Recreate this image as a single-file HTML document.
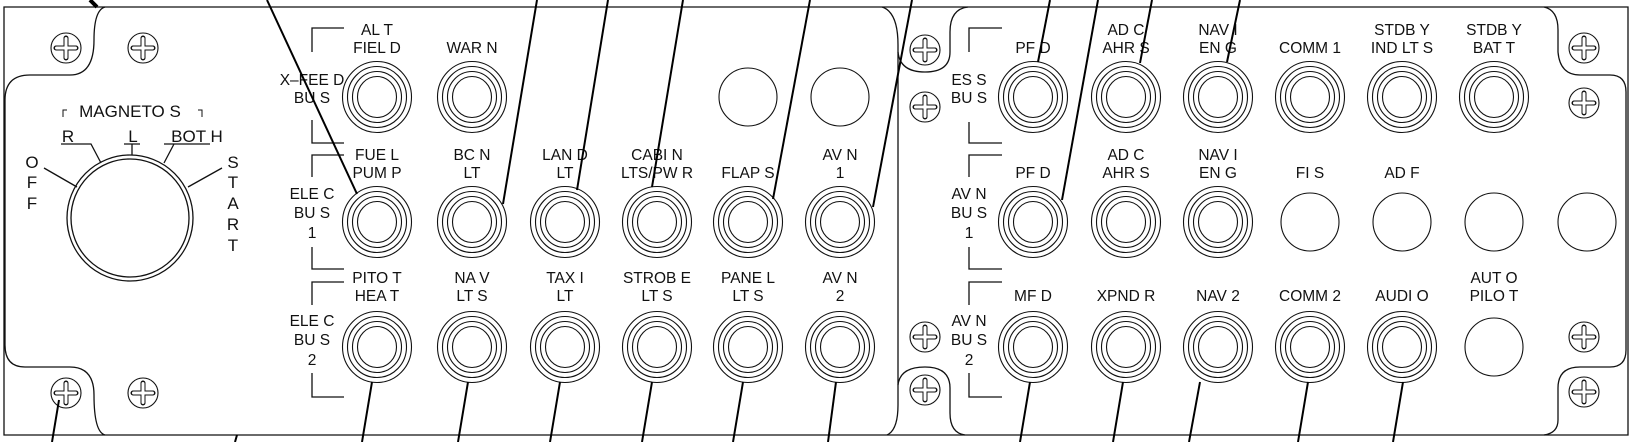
<!DOCTYPE html>
<html><head><meta charset="utf-8"><style>
html,body{margin:0;padding:0;background:#fff;}
svg{display:block;}
text{font-family:"Liberation Sans",sans-serif;font-size:15.5px;fill:#111;text-anchor:middle;}
</style></head><body>
<svg width="1636" height="442" viewBox="0 0 1636 442" xmlns="http://www.w3.org/2000/svg">
<defs>
<g id="jack" fill="none" stroke="#111" stroke-width="1.1">
<ellipse rx="34.5" ry="35.5"/><ellipse rx="29.5" ry="30.5"/><ellipse rx="24.5" ry="25.5"/><ellipse rx="19.5" ry="20.5"/>
</g>
<g id="screw">
<circle r="15" fill="#fff" stroke="#111" stroke-width="1.1"/>
<path d="M-10 0H10M0 -10V10" stroke="#111" stroke-width="5" stroke-linecap="round"/>
<path d="M-9.5 0H9.5M0 -9.5V9.5" stroke="#fff" stroke-width="3" stroke-linecap="round"/>
</g>
<ellipse id="hole" rx="29" ry="29" fill="none" stroke="#111" stroke-width="1.1"/>
</defs>
<g fill="none" stroke="#111" stroke-width="1.3">
<path d="M4 7H1628V435H4Z"/>
<path d="M105 7 Q94 10 94 40 Q94 75 70 75 L30 75 Q5 75 5 100 L5 345 Q5 367 25 367 L70 367 Q94 367 94 395 Q94 432 105 435"/>
<path d="M882 7 Q898 12 898 45 L898 405 Q898 430 887 435"/>
<path d="M968 7 Q950 9 950 32 L950 52 Q950 72 925 72 Q900 72 898 52"/>
<path d="M898 385 Q900 367 925 367 Q950 367 950 388 L950 413 Q950 433 965 435"/>
<path d="M1544 7 Q1558 10 1558 30 L1558 52 Q1560 75 1580 75 L1610 75 Q1626 75 1626 92 L1626 350 Q1626 367 1610 367 L1580 367 Q1558 367 1558 388 L1558 420 Q1558 433 1544 435"/>
<path d="M344 28H312V52M312 120V143H344"/>
<path d="M344 155H312V177M312 247V269H344"/>
<path d="M344 282H312V305M312 373V397H344"/>
<path d="M1002 28H969V52M969 122V143H1002"/>
<path d="M1002 155H969V177M969 247V269H1002"/>
<path d="M1002 282H969V305M969 373V397H1002"/>
<ellipse cx="130" cy="218" rx="63" ry="63"/>
<ellipse cx="130" cy="218" rx="59" ry="59"/>
<path d="M61 144H91L101 163"/>
<path d="M124 144H140M132 144V155"/>
<path d="M164 144H210M174 144L164 163"/>
<path d="M44 168L77 187"/>
<path d="M222 168L188 187"/>
<path d="M63 117V110H67M198 110H202V117" stroke-width="1"/>
</g>
<use href="#screw" x="66" y="48"/><use href="#screw" x="143" y="48"/>
<use href="#screw" x="66" y="393"/><use href="#screw" x="143" y="393"/>
<use href="#screw" x="925" y="50"/><use href="#screw" x="925" y="107"/>
<use href="#screw" x="925" y="337"/><use href="#screw" x="925" y="390"/>
<use href="#screw" x="1584" y="48"/><use href="#screw" x="1584" y="103"/>
<use href="#screw" x="1584" y="337"/><use href="#screw" x="1584" y="392"/>
<use href="#jack" x="377" y="97"/><use href="#jack" x="472" y="97"/>
<use href="#hole" x="748" y="97"/><use href="#hole" x="840" y="97"/>
<use href="#jack" x="377" y="222"/><use href="#jack" x="472" y="222"/><use href="#jack" x="565" y="222"/>
<use href="#jack" x="657" y="222"/><use href="#jack" x="748" y="222"/><use href="#jack" x="840" y="222"/>
<use href="#jack" x="377" y="347"/><use href="#jack" x="472" y="347"/><use href="#jack" x="565" y="347"/>
<use href="#jack" x="657" y="347"/><use href="#jack" x="748" y="347"/><use href="#jack" x="840" y="347"/>
<use href="#jack" x="1033" y="97"/><use href="#jack" x="1126" y="97"/><use href="#jack" x="1218" y="97"/>
<use href="#jack" x="1310" y="97"/><use href="#jack" x="1402" y="97"/><use href="#jack" x="1494" y="97"/>
<use href="#jack" x="1033" y="222"/><use href="#jack" x="1126" y="222"/><use href="#jack" x="1218" y="222"/>
<use href="#hole" x="1310" y="222"/><use href="#hole" x="1402" y="222"/><use href="#hole" x="1494" y="222"/><use href="#hole" x="1587" y="222"/>
<use href="#jack" x="1033" y="347"/><use href="#jack" x="1126" y="347"/><use href="#jack" x="1218" y="347"/>
<use href="#jack" x="1310" y="347"/><use href="#jack" x="1402" y="347"/>
<use href="#hole" x="1494" y="347"/>
<g>
<text x="130" y="117" style="font-size:17px">MAGNETO   S</text>
<text x="68" y="142" style="font-size:17px">R</text>
<text x="133" y="142" style="font-size:17px">L</text>
<text x="197" y="142" style="font-size:17px">BOT  H</text>
<text x="32" y="168" style="font-size:17px">O</text><text x="32" y="188" style="font-size:17px">F</text><text x="32" y="209" style="font-size:17px">F</text>
<text x="233" y="168" style="font-size:17px">S</text><text x="233" y="188" style="font-size:17px">T</text><text x="233" y="209" style="font-size:17px">A</text><text x="233" y="230" style="font-size:17px">R</text><text x="233" y="251" style="font-size:17px">T</text>

<text x="312" y="85">X–FEE  D</text><text x="312" y="103">BU S</text>
<text x="312" y="199">ELE C</text><text x="312" y="218">BU S</text><text x="312" y="238">1</text>
<text x="312" y="326">ELE C</text><text x="312" y="345">BU S</text><text x="312" y="365">2</text>

<text x="377" y="35">AL T</text><text x="377" y="53">FIEL D</text>
<text x="472" y="53">WAR N</text>
<text x="377" y="160">FUE L</text><text x="377" y="178">PUM P</text>
<text x="472" y="160">BC N</text><text x="472" y="178">LT</text>
<text x="565" y="160">LAN D</text><text x="565" y="178">LT</text>
<text x="657" y="160">CABI N</text><text x="657" y="178">LTS/PW  R</text>
<text x="748" y="178">FLAP S</text>
<text x="840" y="160">AV N</text><text x="840" y="178">1</text>
<text x="377" y="283">PITO T</text><text x="377" y="301">HEA T</text>
<text x="472" y="283">NA V</text><text x="472" y="301">LT S</text>
<text x="565" y="283">TAX I</text><text x="565" y="301">LT</text>
<text x="657" y="283">STROB  E</text><text x="657" y="301">LT S</text>
<text x="748" y="283">PANE L</text><text x="748" y="301">LT S</text>
<text x="840" y="283">AV N</text><text x="840" y="301">2</text>

<text x="969" y="85">ES S</text><text x="969" y="103">BU S</text>
<text x="969" y="199">AV N</text><text x="969" y="218">BU S</text><text x="969" y="238">1</text>
<text x="969" y="326">AV N</text><text x="969" y="345">BU S</text><text x="969" y="365">2</text>

<text x="1033" y="53">PF D</text>
<text x="1126" y="35">AD C</text><text x="1126" y="53">AHR S</text>
<text x="1218" y="35">NAV  I</text><text x="1218" y="53">EN G</text>
<text x="1310" y="53">COMM   1</text>
<text x="1402" y="35">STDB  Y</text><text x="1402" y="53">IND LT  S</text>
<text x="1494" y="35">STDB  Y</text><text x="1494" y="53">BAT T</text>
<text x="1033" y="178">PF D</text>
<text x="1126" y="160">AD C</text><text x="1126" y="178">AHR S</text>
<text x="1218" y="160">NAV  I</text><text x="1218" y="178">EN G</text>
<text x="1310" y="178">FI S</text>
<text x="1402" y="178">AD F</text>
<text x="1033" y="301">MF D</text>
<text x="1126" y="301">XPND  R</text>
<text x="1218" y="301">NAV  2</text>
<text x="1310" y="301">COMM   2</text>
<text x="1402" y="301">AUDI  O</text>
<text x="1494" y="283">AUT O</text><text x="1494" y="301">PILO T</text>
</g>
<g stroke="#000" stroke-width="2" fill="none">
<path d="M90 0L97 7" stroke-width="4"/>
<path d="M267 0L357 194"/>
<path d="M537 0L503 204"/>
<path d="M608 0L577 190"/>
<path d="M683 0L652 187"/>
<path d="M810 0L773 199"/>
<path d="M912 0L873 207"/>
<path d="M1050 0L1038 62"/>
<path d="M1098 0L1062 200"/>
<path d="M1152 0L1140 63"/>
<path d="M1240 0L1227 62"/>
<path d="M59 400L52 442"/>
<path d="M237 435L235 442"/>
<path d="M372 382L362 442"/>
<path d="M468 382L458 442"/>
<path d="M560 382L550 442"/>
<path d="M652 382L642 442"/>
<path d="M743 382L733 442"/>
<path d="M836 382L828 442"/>
<path d="M1030 382L1020 442"/>
<path d="M1123 382L1113 442"/>
<path d="M1200 382L1189 442"/>
<path d="M1308 382L1298 442"/>
<path d="M1403 382L1393 442"/>
</g>
</svg>
</body></html>
